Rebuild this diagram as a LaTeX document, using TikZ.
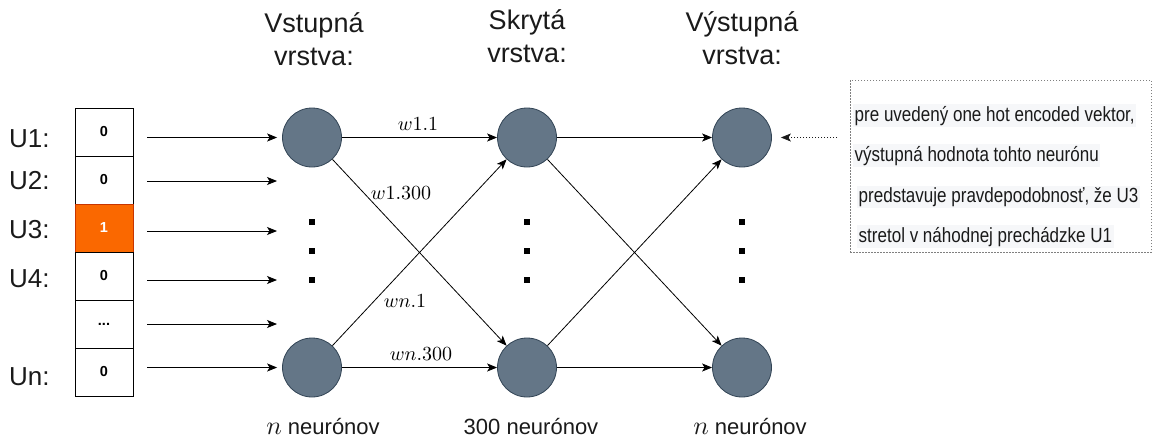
\documentclass[tikz,border=0pt]{standalone}
\usepackage[no-math]{fontspec}
\setmainfont{Liberation Sans}
\newfontfamily\notefont[FakeStretch=0.83]{Liberation Sans}
% scalable Computer Modern math letters and digits
\DeclareFontFamily{OML}{cmm}{\skewchar\font127 }
\DeclareFontShape{OML}{cmm}{m}{it}{<->cmmi10}{}
\DeclareFontShape{OT1}{cmr}{m}{n}{<->cmr10}{}
\usetikzlibrary{arrows.meta}
\definecolor{neuronfill}{HTML}{647687}
\definecolor{neurondraw}{HTML}{314354}
\definecolor{hotfill}{HTML}{FA6800}
\definecolor{hotdraw}{HTML}{C73500}
\definecolor{inktext}{HTML}{1A1A1A}
\definecolor{notebg}{HTML}{F6F7F9}
\newcommand{\bign}{{\fontsize{26}{26}\selectfont$n$}}
\begin{document}
\begin{tikzpicture}[x=1pt,y=-1pt,
  neuron/.style={circle, fill=neuronfill, draw=neurondraw, line width=0.8pt,
    minimum size=59pt, inner sep=0pt},
  cell/.style={draw=black, line width=0.8pt, minimum width=58pt, minimum height=48pt,
    inner sep=0pt, font=\fontsize{14.5}{14.5}\selectfont\bfseries},
  hotcell/.style={cell, fill=hotfill, draw=hotdraw, text=white},
  arr/.style={-{Stealth[length=10pt,width=8pt,inset=2.5pt]}, line width=0.8pt},
  notearr/.style={-{Stealth[length=10pt,width=8pt,inset=2.5pt]}, line width=0.6pt,
    dash pattern=on 1.5pt off 1.5pt, draw=inktext},
  dotmark/.style={fill=black, minimum size=6.5pt, inner sep=0pt},
  head/.style={align=center, text=inktext, font=\fontsize{27}{33}\selectfont},
  foot/.style={text=inktext, font=\fontsize{22}{22}\selectfont, inner sep=0pt},
  ulabel/.style={text=inktext, font=\fontsize{26}{26}\selectfont, inner sep=0pt},
  wlabel/.style={font=\fontsize{20}{20}\selectfont, inner sep=1pt},
  notebox/.style={draw=gray, line width=0.8pt, dash pattern=on 1.5pt off 1.5pt,
    minimum width=301pt, minimum height=172pt, inner sep=0pt},
  noteline/.style={fill=notebg, text=inktext, inner sep=1.5pt,
    font=\notefont\fontsize{20.5}{20.5}\selectfont}
]
\useasboundingbox (0,0) rectangle (1153,442);

% layer headings
\node[head] (h1) at (314,39) {Vstupná\\vrstva:};
\node[head] (h2) at (527,36) {Skrytá\\vrstva:};
\node[head] (h3) at (742,38) {Výstupná\\vrstva:};

% one hot encoded input vector
\node[cell]    (c1) at (104,132) {0};
\node[cell]    (c2) at (104,180) {0};
\node[hotcell] (c3) at (104,228) {1};
\node[cell]    (c4) at (104,276) {0};
\node[cell]    (c5) at (104,324) {...};
\node[cell]    (c6) at (104,372) {0};

\node[ulabel, anchor=base west] (u1) at (9,147) {U1:};
\node[ulabel, anchor=base west] (u2) at (9,189) {U2:};
\node[ulabel, anchor=base west] (u3) at (9,238) {U3:};
\node[ulabel, anchor=base west] (u4) at (9,287) {U4:};
\node[ulabel, anchor=base west] (un) at (9,385) {Un:};

% neurons
\node[neuron] (in1)  at (312,137.5) {};
\node[neuron] (in2)  at (312,367.5) {};
\node[neuron] (hid1) at (527,137.5) {};
\node[neuron] (hid2) at (527,367.5) {};
\node[neuron] (out1) at (742,137.5) {};
\node[neuron] (out2) at (742,367.5) {};

% vertical ellipses between first and last neuron of each layer
\foreach \lx/\ln in {312/i, 527/h, 742/o}{
  \node[dotmark] (\ln d1) at (\lx,222) {};
  \node[dotmark] (\ln d2) at (\lx,251) {};
  \node[dotmark] (\ln d3) at (\lx,280) {};
}

% input arrows
\coordinate (a1) at (147,137.5);
\coordinate (a2) at (147,181);
\coordinate (a3) at (147,231);
\coordinate (a4) at (147,280);
\coordinate (a5) at (147,324);
\coordinate (a6) at (147,367.5);
\coordinate (b2) at (277,181);
\coordinate (b3) at (277,231);
\coordinate (b4) at (277,280);
\coordinate (b5) at (277,324);
\draw[arr, shorten >=5pt] (a1) -- (in1);
\draw[arr] (a2) -- (b2);
\draw[arr] (a3) -- (b3);
\draw[arr] (a4) -- (b4);
\draw[arr] (a5) -- (b5);
\draw[arr, shorten >=5pt] (a6) -- (in2);

% weights
\draw[arr] (in1) -- (hid1);
\draw[arr] (in1) -- (hid2);
\draw[arr] (in2) -- (hid1);
\draw[arr] (in2) -- (hid2);
\draw[arr] (hid1) -- (out1);
\draw[arr] (hid1) -- (out2);
\draw[arr] (hid2) -- (out1);
\draw[arr] (hid2) -- (out2);

\node[wlabel] (w11)  at (418,124) {$w1.1$};
\node[wlabel] (w1k)  at (401,193) {$w1.300$};
\node[wlabel] (wn1)  at (405,301) {$wn.1$};
\node[wlabel] (wnk)  at (421,354) {$wn.300$};

% layer sizes
\node[foot, anchor=base] (f1) at (323,434) {\bign\ neurónov};
\node[foot, anchor=base] (f2) at (531,434) {300 neurónov};
\node[foot, anchor=base] (f3) at (750,434) {\bign\ neurónov};

% note on the first output neuron
\node[notebox] (note) at (1000.5,166) {};
\node[noteline, anchor=base west] (t1) at (853,121) {pre uvedený one hot encoded vektor,};
\node[noteline, anchor=base west] (t2) at (853,161) {výstupná hodnota tohto neurónu};
\node[noteline, anchor=base west] (t3) at (857,202) {predstavuje pravdepodobnosť, že U3};
\node[noteline, anchor=base west] (t4) at (857,242) {stretol v náhodnej prechádzke U1};
\coordinate (nstart) at (837,137.5);
\draw[notearr, shorten >=9pt] (nstart) -- (out1);
\end{tikzpicture}
\end{document}
